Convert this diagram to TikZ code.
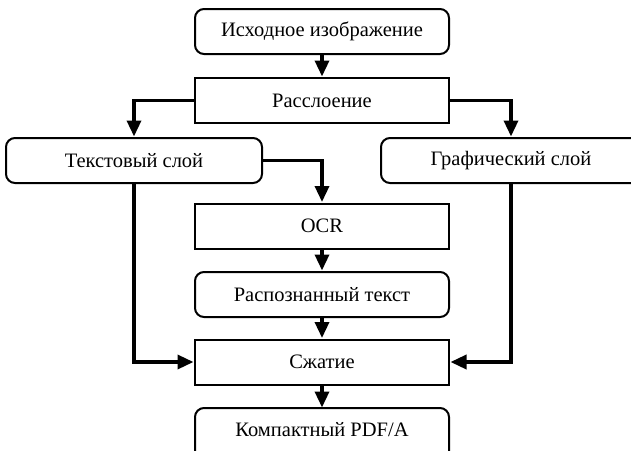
\documentclass[tikz,border=0pt]{standalone}
\usepackage{fontspec}
\setmainfont{Liberation Serif}
\usetikzlibrary{arrows.meta}
\begin{document}
\begin{tikzpicture}[x=1pt,y=-1pt,
  box/.style={draw, line width=2pt, minimum width=254pt, minimum height=45pt, inner sep=0pt,
    font=\fontsize{20.5}{24}\selectfont},
  rbox/.style={box, rounded corners=9pt},
  conn/.style={line width=3.4pt, -{Triangle[length=16pt,width=14pt]}, shorten >=0.5pt}]
\clip (0,0) rectangle (631,450);
\fill[white] (0,0) rectangle (631,450);
\node[rbox] (src) at (322,31.5) {Исходное изображение};
\node[box] (split) at (322,100.5) {Расслоение};
\node[rbox, minimum width=256pt] (txt) at (134,160.5) {Текстовый слой};
\node[box, draw=none, minimum width=260pt] (gr) at (511,160.5) {Графический слой};
\draw[line width=2pt, rounded corners=9pt] (660,138) -- (381,138) -- (381,183) -- (660,183);
\node[box] (ocr) at (322,226) {OCR};
\node[rbox] (rec) at (322,294.5) {Распознанный текст};
\node[box] (comp) at (322,362) {Сжатие};
\node[box, draw=none] (pdf) at (322,430) {Компактный PDF/A};
\draw[line width=2pt, rounded corners=9pt] (195,470) -- (195,408) -- (449,408) -- (449,470);
\coordinate (pdftop) at (322,408);
\draw[conn] (src) -- (split);
\draw[conn] (split.west) -| (txt.north);
\draw[conn] (split.east) -| (gr.north);
\draw[conn] (txt.east) -| (ocr.north);
\draw[conn] (ocr) -- (rec);
\draw[conn] (rec) -- (comp);
\draw[conn] (comp) -- (pdftop);
\draw[conn] (txt.south) |- (comp.west);
\draw[conn] (gr.south) |- (comp.east);
\end{tikzpicture}
\end{document}
